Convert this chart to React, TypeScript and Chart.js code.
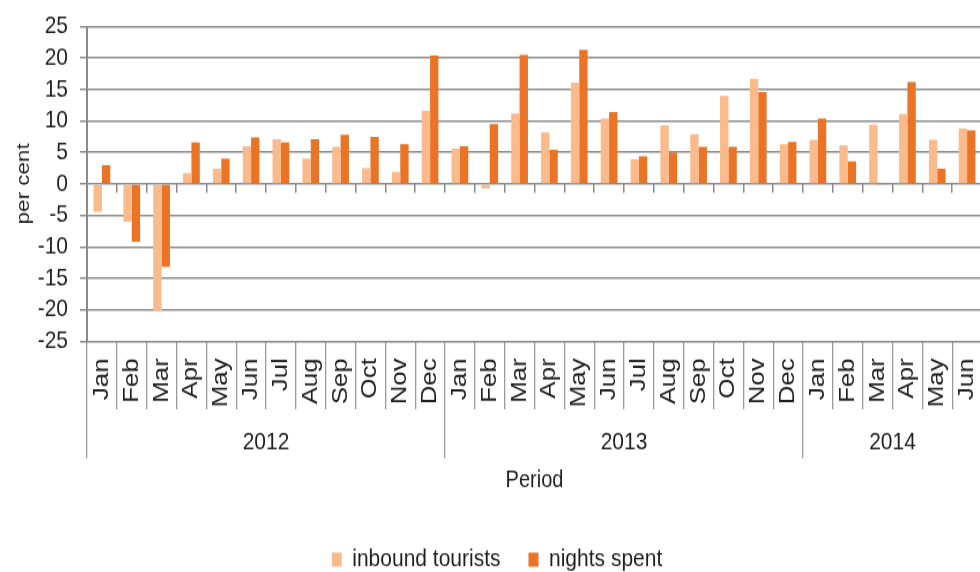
import React, { useEffect, useRef } from 'react';
import { Chart, registerables } from 'chart.js';

Chart.register(...registerables);

// ---- data ----
const periods = [
  'Jan', 'Feb', 'Mar', 'Apr', 'May', 'Jun', 'Jul', 'Aug', 'Sep', 'Oct', 'Nov', 'Dec',
  'Jan', 'Feb', 'Mar', 'Apr', 'May', 'Jun', 'Jul', 'Aug', 'Sep', 'Oct', 'Nov', 'Dec',
  'Jan', 'Feb', 'Mar', 'Apr', 'May', 'Jun',
];
const years = ['2012', '2013', '2014'];
const monthsPerYear = [12, 12, 6];

const inboundTourists = [
  -4.4, -6.0, -20.2, 1.7, 2.4, 6.0, 7.1, 4.0, 5.9, 2.5, 1.9, 11.6,
  5.6, -0.7, 11.2, 8.2, 16.1, 10.4, 3.9, 9.3, 7.9, 14.0, 16.7, 6.3,
  7.0, 6.1, 9.4, 11.1, 7.0, 8.8,
];
const nightsSpent = [
  3.0, -9.2, -13.2, 6.6, 4.0, 7.4, 6.6, 7.1, 7.8, 7.5, 6.3, 20.4,
  6.0, 9.5, 20.5, 5.4, 21.3, 11.4, 4.4, 5.0, 5.9, 5.9, 14.6, 6.7,
  10.4, 3.6, -0.1, 16.2, 2.4, 8.5,
];

const yMin = -25;
const yMax = 25;
const yStep = 5;

// ---- styling ----
const FONT = "'Liberation Sans', Arial, Helvetica, sans-serif";
const TEXT = '#1f1f1f';
const GRID = '#8a8a8a';
const SEP = '#9a9a9a';
const LIGHT = '#FBBA8B';
const DARK = '#EA7326';

export default function App() {
  const ref = useRef<HTMLCanvasElement | null>(null);

  useEffect(() => {
    if (!ref.current) return;

    // year group boundaries and centres in category-index units
    const boundaries: number[] = [-0.5];
    const centers: number[] = [];
    let acc = 0;
    monthsPerYear.forEach((n) => {
      centers.push(acc + n / 2 - 0.5);
      acc += n;
      boundaries.push(acc - 0.5);
    });

    Chart.defaults.font.family = FONT;
    Chart.defaults.color = TEXT;

    const chart = new Chart(ref.current, {
      type: 'bar',
      data: {
        labels: periods,
        datasets: [
          {
            label: 'inbound tourists',
            data: inboundTourists,
            backgroundColor: LIGHT,
            borderWidth: 0,
            xAxisID: 'x',
            yAxisID: 'y',
            categoryPercentage: 0.56,
            barPercentage: 1,
          },
          {
            label: 'nights spent',
            data: nightsSpent,
            backgroundColor: DARK,
            borderWidth: 0,
            xAxisID: 'x',
            yAxisID: 'y',
            categoryPercentage: 0.56,
            barPercentage: 1,
          },
        ],
      },
      options: {
        responsive: false,
        maintainAspectRatio: false,
        animation: false,
        devicePixelRatio: 1,
        layout: { padding: { top: 20.35, left: 12, right: 0, bottom: -10 } },
        plugins: {
          tooltip: { enabled: false },
          legend: {
            position: 'bottom',
            labels: {
              boxWidth: 10,
              boxHeight: 12,
              padding: 28,
              color: TEXT,
              font: { size: 21, family: FONT },
            },
          },
        },
        scales: {
          x: {
            type: 'category',
            position: 'bottom',
            weight: 0,
            offset: true,
            grid: {
              offset: true,
              drawOnChartArea: false,
              drawTicks: true,
              tickLength: 57.7,
              color: SEP,
              lineWidth: 1.3,
            },
            border: { display: false },
            ticks: {
              autoSkip: false,
              minRotation: 90,
              maxRotation: 90,
              padding: -43.3,
              color: TEXT,
              font: { size: 22, family: FONT },
            },
            afterFit: (s: any) => {
              s.height = 57.7;
            },
          },
          xYear: {
            type: 'linear',
            axis: 'x',
            position: 'bottom',
            weight: 1,
            offset: false,
            min: -0.5,
            max: acc - 0.5,
            grid: {
              offset: false,
              drawOnChartArea: false,
              drawTicks: true,
              tickLength: 41.5,
              color: (c: any) =>
                c.tick && boundaries.includes(c.tick.value) ? SEP : 'rgba(0,0,0,0)',
              lineWidth: 1.3,
            },
            border: { display: false },
            afterBuildTicks: (s: any) => {
              s.ticks = [...boundaries, ...centers]
                .sort((a, b) => a - b)
                .map((v) => ({ value: v }));
            },
            ticks: {
              autoSkip: false,
              minRotation: 0,
              maxRotation: 0,
              padding: -26.1,
              color: TEXT,
              font: { size: 21, family: FONT },
              callback: (v: any) => {
                const i = centers.indexOf(Number(v));
                return i >= 0 ? years[i] : '';
              },
            },
            title: {
              display: true,
              text: 'Period',
              color: TEXT,
              font: { size: 20, family: FONT },
              padding: { top: 0, bottom: 17 },
            },
            afterFit: (s: any) => {
              s.height = 89;
            },
          },
          xZero: {
            type: 'category',
            axis: 'x',
            position: { y: 0 },
            offset: true,
            grid: {
              offset: true,
              drawOnChartArea: false,
              drawTicks: true,
              tickLength: 7.6,
              color: GRID,
              lineWidth: 1.5,
            },
            border: { display: false },
            ticks: { display: false },
          },
          y: {
            type: 'linear',
            position: 'left',
            min: yMin,
            max: yMax,
            ticks: {
              stepSize: yStep,
              autoSkip: false,
              padding: 12,
              color: TEXT,
              font: { size: 21, family: FONT, lineHeight: 1 },
            },
            grid: {
              color: GRID,
              lineWidth: 1.5,
              drawTicks: true,
              tickLength: 7,
            },
            border: { display: true, color: GRID, width: 2 },
            title: {
              display: true,
              text: 'per cent',
              color: TEXT,
              font: { size: 19, family: FONT },
              padding: { top: 0, bottom: 0 },
            },
            afterFit: (s: any) => {
              s.width = 75;
            },
          },
        },
      } as any,
    });

    return () => {
      chart.destroy();
    };
  }, []);

  return (
    <div
      style={{
        position: 'absolute',
        left: 0,
        top: 0,
        width: 980,
        height: 572,
        overflow: 'hidden',
        background: '#ffffff',
      }}
    >
      <canvas
        ref={ref}
        width={982}
        height={485}
        style={{ display: 'block', width: '982px', height: '572px' }}
      />
    </div>
  );
}
